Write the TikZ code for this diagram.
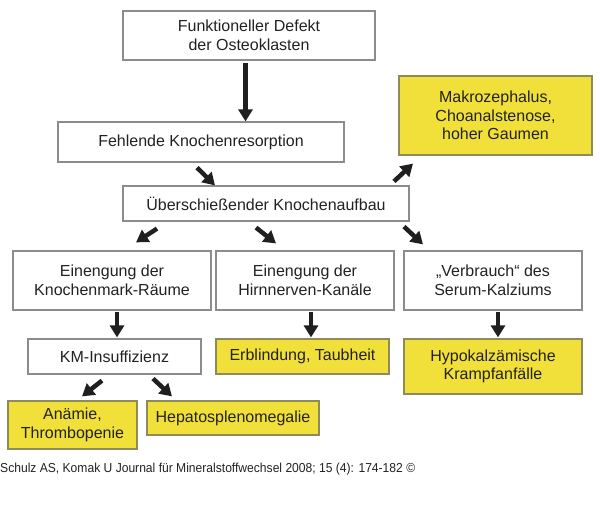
\documentclass[tikz,border=0pt]{standalone}
\usepackage{fontspec}
\setmainfont{Liberation Sans}
\usetikzlibrary{arrows.meta,calc}
\definecolor{boxyellow}{HTML}{F2E03A}
\definecolor{graybord}{HTML}{8C8C8C}
\definecolor{yelbord}{HTML}{8F8A5A}
\definecolor{txt}{HTML}{222222}
\begin{document}
\begin{tikzpicture}[x=1pt,y=-1pt,
  wbox/.style={draw=graybord, line width=1.2pt, fill=white, inner sep=0pt, align=center,
    text=txt, font=\fontsize{16}{18.5}\selectfont},
  ybox/.style={wbox, draw=yelbord, fill=boxyellow},
  arr/.style={line width=4.5pt, draw=black!88, -{Triangle[length=12pt,width=14pt]}}]
\useasboundingbox (0,0) rectangle (600,518);
\newcommand{\bx}[7]{\node[#1, minimum width={#5-#3}, minimum height={#6-#4}] (#2) at ({(#3+#5)/2},{(#4+#6)/2}) {#7};}
\bx{wbox}{f1}{123}{11}{375}{60}{Funktioneller Defekt\\der Osteoklasten}
\bx{wbox}{f2}{58}{122}{344}{162}{Fehlende Knochenresorption}
\bx{wbox}{f3}{123}{186}{409}{221}{Überschießender Knochenaufbau}
\bx{ybox}{mak}{399}{76}{592}{155}{Makrozephalus,\\Choanalstenose,\\hoher Gaumen}
\bx{wbox}{ea}{13}{251}{211}{310}{Einengung der\\Knochenmark-Räume}
\bx{wbox}{eb}{216}{251}{394}{310}{Einengung der\\Hirnnerven-Kanäle}
\bx{wbox}{ec}{404}{251}{582}{310}{„Verbrauch“ des\\Serum-Kalziums}
\bx{wbox}{km}{28}{339}{201}{374}{KM-Insuffizienz}
\bx{ybox}{erb}{216}{339}{389}{374}{Erblindung, Taubheit}
\bx{ybox}{hyp}{404}{339}{582}{394}{Hypokalzämische\\Krampfanfälle}
\bx{ybox}{ana}{8}{401}{137}{449}{Anämie,\\Thrombopenie}
\bx{ybox}{hep}{147}{401}{319}{435}{Hepatosplenomegalie}
\node[anchor=base west, inner sep=0pt, text=txt] (cap) at (0,472)
  {\scalebox{0.93}[1]{\fontsize{13}{15}\selectfont Schulz AS, Komak U Journal für Mineralstoffwechsel 2008; 15 (4): 174-182 ©}};
% connectors
\draw[arr] ($(f1.south)+(-3.5,2)$) -- ($(f2.north)+(44.5,0)$);
\draw[arr] ($(f2.south)+(-4,5)$) -- ($(f3.north)+(-51,0)$);
\draw[arr] ($(f3.north)+(128,-4)$) -- ($(mak.south)+(-82.5,8)$);
\draw[arr] ($(f3.south)+(-109,7)$) -- ($(ea.north)+(24,-8)$);
\draw[arr] ($(f3.south)+(-10,6)$) -- ($(eb.north)+(-29,-7)$);
\draw[arr] ($(f3.south)+(138,5)$) -- ($(ec.north)+(-70,-6)$);
\draw[arr] ($(ea.south)+(5,1)$) -- ($(km.north)+(2.5,-1)$);
\draw[arr] ($(eb.south)+(6,1)$) -- ($(erb.north)+(8.5,-1)$);
\draw[arr] ($(ec.south)+(5,1)$) -- ($(hyp.north)+(5,-1)$);
\draw[arr] ($(km.south)+(-12.5,6)$) -- ($(ana.north)+(9.5,-4)$);
\draw[arr] ($(km.south)+(38.5,4)$) -- ($(hep.north)+(-61,-4)$);
\end{tikzpicture}
\end{document}
